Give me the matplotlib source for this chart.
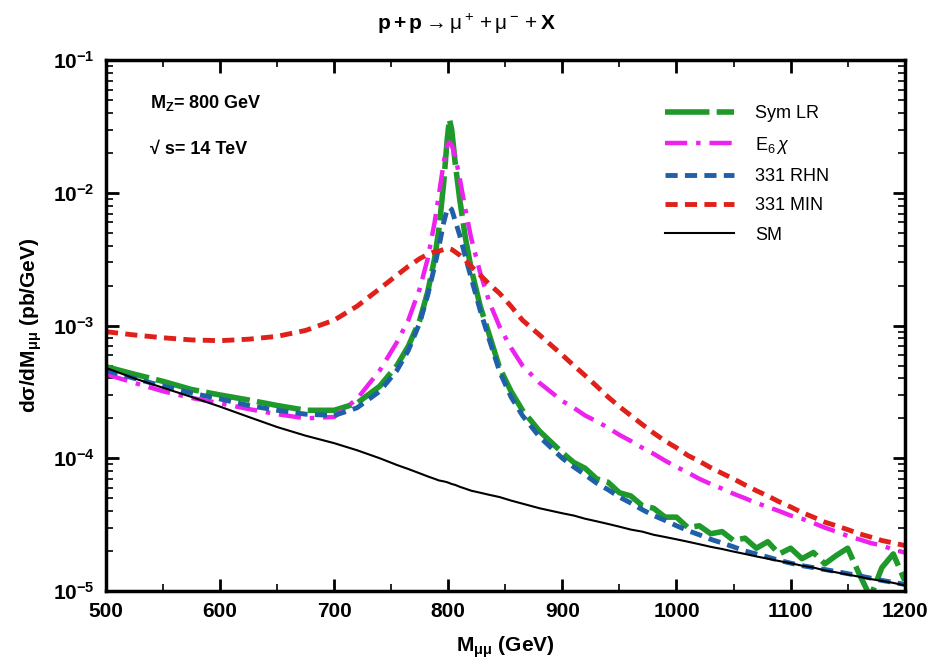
import math
import matplotlib
matplotlib.use('Agg')
import matplotlib.pyplot as plt
from matplotlib.ticker import FixedLocator, FuncFormatter, LogLocator, NullFormatter

plt.rcParams['font.family'] = ['Liberation Sans', 'DejaVu Sans']
plt.rcParams['mathtext.fontset'] = 'custom'
plt.rcParams['mathtext.rm'] = 'Liberation Sans'
plt.rcParams['mathtext.it'] = 'Liberation Sans:italic'
plt.rcParams['mathtext.bf'] = 'Liberation Sans:bold'

# invariant mass grid (GeV)
mass = [500, 525, 550, 575, 600, 625, 650, 675, 700, 720, 740, 755, 765, 775, 782, 788,
        792, 796, 799, 801, 803, 806, 810, 815, 820, 828, 836, 845, 855, 865, 880, 900,
        910, 920, 930, 940, 950, 960, 970, 980, 990, 1000, 1010, 1020, 1030, 1040, 1050,
        1060, 1070, 1080, 1090, 1100, 1110, 1120, 1130, 1140, 1150, 1160, 1170, 1180,
        1190, 1200]

sym_lr = [4.9e-4, 4.3e-4, 3.8e-4, 3.3e-4, 3.0e-4, 2.75e-4, 2.5e-4, 2.3e-4, 2.3e-4, 2.6e-4,
          3.5e-4, 5.0e-4, 7.0e-4, 1.1e-3, 1.8e-3, 3.2e-3, 5.5e-3, 1.2e-2, 2.5e-2, 3.6e-2,
          3.0e-2, 1.7e-2, 9.0e-3, 4.6e-3, 2.7e-3, 1.4e-3, 8.5e-4, 4.8e-4, 3.2e-4, 2.3e-4,
          1.6e-4, 1.1e-4, 9.3e-5, 8.4e-5, 7.0e-5, 6.6e-5, 5.5e-5, 5.2e-5, 4.4e-5, 4.2e-5,
          3.6e-5, 3.6e-5, 3.0e-5, 3.1e-5, 2.7e-5, 2.8e-5, 2.4e-5, 2.5e-5, 2.1e-5, 2.35e-5,
          1.9e-5, 2.1e-5, 1.75e-5, 1.95e-5, 1.6e-5, 1.85e-5, 2.1e-5, 1.35e-5, 9.0e-6,
          1.5e-5, 1.9e-5, 1.2e-5]

e6_chi = [4.3e-4, 3.7e-4, 3.2e-4, 2.85e-4, 2.6e-4, 2.35e-4, 2.15e-4, 2.0e-4, 2.05e-4, 2.8e-4,
          4.6e-4, 7.5e-4, 1.1e-3, 1.9e-3, 3.2e-3, 6.0e-3, 1.0e-2, 1.7e-2, 2.3e-2, 2.4e-2,
          2.3e-2, 1.9e-2, 1.3e-2, 7.5e-3, 4.6e-3, 2.5e-3, 1.5e-3, 9.8e-4, 6.8e-4, 5.0e-4,
          3.7e-4, 2.7e-4, 2.4e-4, 2.1e-4, 1.9e-4, 1.7e-4, 1.5e-4, 1.35e-4, 1.2e-4, 1.08e-4,
          9.6e-5, 8.6e-5, 7.8e-5, 7.0e-5, 6.4e-5, 5.9e-5, 5.4e-5, 5.0e-5, 4.6e-5, 4.3e-5,
          4.0e-5, 3.7e-5, 3.5e-5, 3.25e-5, 3.0e-5, 2.8e-5, 2.6e-5, 2.45e-5, 2.3e-5, 2.2e-5,
          2.05e-5, 1.95e-5]

rhn_331 = [4.6e-4, 4.0e-4, 3.5e-4, 3.1e-4, 2.8e-4, 2.5e-4, 2.3e-4, 2.15e-4, 2.1e-4, 2.4e-4,
           3.2e-4, 4.6e-4, 6.5e-4, 1.05e-3, 1.7e-3, 2.8e-3, 4.0e-3, 6.0e-3, 7.5e-3, 7.8e-3,
           7.5e-3, 6.2e-3, 4.8e-3, 3.3e-3, 2.3e-3, 1.3e-3, 7.8e-4, 4.5e-4, 2.9e-4, 2.1e-4,
           1.45e-4, 1.0e-4, 8.6e-5, 7.5e-5, 6.5e-5, 5.8e-5, 5.1e-5, 4.6e-5, 4.1e-5, 3.7e-5,
           3.4e-5, 3.1e-5, 2.85e-5, 2.65e-5, 2.45e-5, 2.3e-5, 2.15e-5, 2.0e-5, 1.9e-5, 1.8e-5,
           1.7e-5, 1.62e-5, 1.55e-5, 1.5e-5, 1.45e-5, 1.4e-5, 1.35e-5, 1.3e-5, 1.25e-5, 1.2e-5,
           1.16e-5, 1.12e-5]

min_331 = [9.0e-4, 8.5e-4, 8.1e-4, 7.8e-4, 7.7e-4, 7.9e-4, 8.3e-4, 9.2e-4, 1.1e-3, 1.4e-3,
           1.9e-3, 2.4e-3, 2.8e-3, 3.2e-3, 3.45e-3, 3.6e-3, 3.65e-3, 3.75e-3, 3.8e-3, 3.8e-3,
           3.75e-3, 3.6e-3, 3.4e-3, 3.1e-3, 2.8e-3, 2.4e-3, 2.05e-3, 1.75e-3, 1.4e-3, 1.1e-3,
           8.5e-4, 6.0e-4, 5.0e-4, 4.2e-4, 3.5e-4, 2.9e-4, 2.45e-4, 2.1e-4, 1.8e-4, 1.55e-4,
           1.35e-4, 1.2e-4, 1.05e-4, 9.5e-5, 8.5e-5, 7.7e-5, 7.0e-5, 6.3e-5, 5.7e-5, 5.2e-5,
           4.7e-5, 4.3e-5, 3.9e-5, 3.6e-5, 3.3e-5, 3.1e-5, 2.9e-5, 2.7e-5, 2.55e-5, 2.4e-5,
           2.3e-5, 2.2e-5]

sm = [4.8e-4, 4.0e-4, 3.4e-4, 2.9e-4, 2.45e-4, 2.05e-4, 1.72e-4, 1.48e-4, 1.3e-4, 1.15e-4,
      1.0e-4, 8.9e-5, 8.3e-5, 7.7e-5, 7.3e-5, 7.0e-5, 6.8e-5, 6.7e-5, 6.6e-5, 6.5e-5,
      6.4e-5, 6.3e-5, 6.1e-5, 5.9e-5, 5.7e-5, 5.5e-5, 5.3e-5, 5.1e-5, 4.8e-5, 4.55e-5,
      4.2e-5, 3.85e-5, 3.7e-5, 3.5e-5, 3.35e-5, 3.2e-5, 3.05e-5, 2.9e-5, 2.8e-5, 2.65e-5,
      2.55e-5, 2.45e-5, 2.35e-5, 2.25e-5, 2.15e-5, 2.07e-5, 1.98e-5, 1.9e-5, 1.82e-5, 1.75e-5,
      1.68e-5, 1.62e-5, 1.55e-5, 1.5e-5, 1.43e-5, 1.38e-5, 1.33e-5, 1.28e-5, 1.23e-5, 1.19e-5,
      1.15e-5, 1.1e-5]

x_ticks = [500, 600, 700, 800, 900, 1000, 1100, 1200]

fig = plt.figure(figsize=(9.32, 6.70), dpi=100)
ax = fig.add_axes([0.1137, 0.118, 0.857, 0.792])

ax.plot(mass, sym_lr, color='#1f9a2a', lw=4, ls=(0, (8, 1.3)), label='Sym LR')
ax.plot(mass, e6_chi, color='#ee22ee', lw=3.2, ls=(0, (5, 2, 1, 2)), label=r'E$_6\,\chi$')
ax.plot(mass, rhn_331, color='#1f60a8', lw=3.5, ls=(0, (2.5, 1.5)), label='331 RHN')
ax.plot(mass, min_331, color='#e0201a', lw=3.5, ls=(0, (2.5, 1.5)), label='331 MIN')
ax.plot(mass, sm, color='black', lw=1.5, label='SM')

ax.set_yscale('log')
ax.set_xlim(500, 1200)
ax.set_ylim(1e-5, 1e-1)

ax.xaxis.set_major_locator(FixedLocator(x_ticks))
ax.xaxis.set_minor_locator(FixedLocator(range(550, 1200, 100)))
ax.yaxis.set_major_locator(LogLocator(base=10))
ax.yaxis.set_minor_locator(LogLocator(base=10, subs=range(2, 10)))
ax.yaxis.set_minor_formatter(NullFormatter())
ax.yaxis.set_major_formatter(FuncFormatter(
    lambda v, p: r'$\mathbf{10^{%d}}$' % round(math.log10(v))))

ax.tick_params(which='both', direction='in', top=True, right=True)
ax.tick_params(which='major', length=9, width=2, labelsize=15, pad=8)
ax.tick_params(which='minor', length=5, width=1.2)
for lab in ax.get_xticklabels():
    lab.set_fontweight('bold')
for s in ax.spines.values():
    s.set_linewidth(2.5)

ax.set_xlabel(r'$\mathbf{M_{\mu\mu}}$ (GeV)', fontsize=15, fontweight='bold', labelpad=10)
ax.set_ylabel(r'$\mathbf{d\sigma/dM_{\mu\mu}}$ (pb/GeV)', fontsize=15, fontweight='bold',
              labelpad=6)
fig.text(0.5, 0.965, r'$\mathbf{p + p}\rightarrow\mathrm{\mu^+ + \mu^-} + \mathbf{X}$',
         ha='center', va='center', fontsize=15)

ax.text(0.055, 0.92, r'$\mathbf{M_Z}$= 800 GeV', transform=ax.transAxes,
        fontsize=13, fontweight='bold', va='center')
ax.text(0.055, 0.832, '\u221a s= 14 TeV', transform=ax.transAxes,
        fontsize=13, fontweight='bold', va='center')

ax.legend(loc='upper left', bbox_to_anchor=(0.70, 0.915), frameon=False, fontsize=13,
          handlelength=3.8, handletextpad=1.2, labelspacing=0.68, borderpad=0,
          borderaxespad=0)

fig.savefig('out.png', dpi=100)
